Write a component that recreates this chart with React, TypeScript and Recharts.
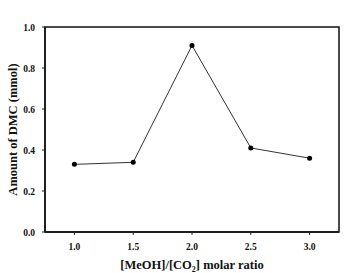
import React from "react";
import { LineChart, Line, XAxis, YAxis, ReferenceArea } from "recharts";

const ratios = [1.0, 1.5, 2.0, 2.5, 3.0];
const dmcAmounts = [0.33, 0.34, 0.91, 0.41, 0.36];
const xTicks = [1.0, 1.5, 2.0, 2.5, 3.0];
const yTicks = [0.0, 0.2, 0.4, 0.6, 0.8, 1.0];

const data = ratios.map((r, i) => ({ ratio: r, dmc: dmcAmounts[i] }));

const font = "'Liberation Serif', 'Times New Roman', serif";

const XTitle = (props: any) => {
  const vb = props.viewBox || {};
  const cx = vb.x + vb.width / 2;
  return (
    <text x={cx} y={269} textAnchor="middle" fontFamily={font} fontWeight="bold" fontSize={12.5} fill="#111">
      [MeOH]/[CO<tspan fontSize={8} dy={3}>2</tspan><tspan dy={-3}>] molar ratio</tspan>
    </text>
  );
};

const YTitle = (props: any) => {
  const vb = props.viewBox || {};
  const cy = vb.y + vb.height / 2;
  return (
    <text x={13} y={cy} transform={`rotate(-90 13 ${cy})`} textAnchor="middle" dominantBaseline="central" fontFamily={font} fontWeight="bold" fontSize={12.5} fill="#111">
      Amount of DMC (mmol)
    </text>
  );
};

const XTick = (props: any) => {
  const { x, y, payload } = props;
  return (
    <text x={x} y={y + 13} textAnchor="middle" fontFamily={font} fontWeight="bold" fontSize={9.5} fill="#111">
      {Number(payload.value).toFixed(1)}
    </text>
  );
};

const YTick = (props: any) => {
  const { x, y, payload } = props;
  return (
    <text x={x - 5} y={y + 3.5} textAnchor="end" fontFamily={font} fontWeight="bold" fontSize={9.5} fill="#111">
      {Number(payload.value).toFixed(1)}
    </text>
  );
};

export default function App() {
  return (
    <div style={{ position: "absolute", left: 0, top: 0, width: 344, height: 273, background: "#fff" }}>
      <LineChart width={344} height={273} data={data} margin={{ top: 27, right: 5, bottom: 11, left: 5 }}>
        <XAxis
          dataKey="ratio"
          type="number"
          domain={[0.75, 3.25]}
          ticks={xTicks}
          height={30}
          tickSize={3}
          tickLine={{ stroke: "#222" }}
          axisLine={{ stroke: "#111", strokeWidth: 1.5 }}
          tick={<XTick />}
          label={<XTitle />}
        />
        <YAxis
          type="number"
          domain={[0, 1]}
          ticks={yTicks}
          width={40}
          tickSize={3}
          tickLine={{ stroke: "#222" }}
          axisLine={{ stroke: "#111", strokeWidth: 1.5 }}
          tick={<YTick />}
          label={<YTitle />}
        />
        <ReferenceArea
          x1={0.75}
          x2={3.25}
          y1={0}
          y2={1}
          fill="none"
          fillOpacity={0}
          stroke="#111"
          strokeWidth={1.5}
          ifOverflow="visible"
        />
        <Line
          dataKey="dmc"
          stroke="#333"
          strokeWidth={1}
          dot={{ r: 2.5, fill: "#000", stroke: "#000", strokeWidth: 0 }}
          isAnimationActive={false}
        />
      </LineChart>
    </div>
  );
}
